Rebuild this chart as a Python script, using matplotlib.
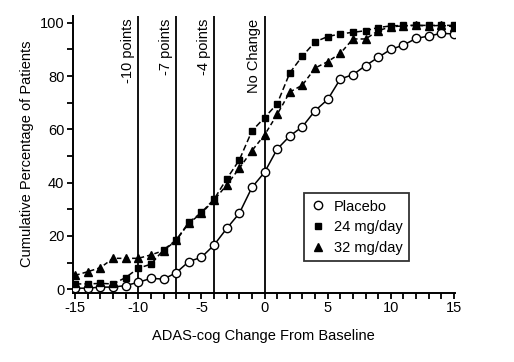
import matplotlib.pyplot as plt
import numpy as np
from matplotlib.lines import Line2D

plt.rcParams['font.family'] = ['Liberation Sans', 'DejaVu Sans']
plt.rcParams['axes.unicode_minus'] = False

# ADAS-cog change from baseline
change = list(range(-15, 16))

placebo = [0.4, 0.4, 0.8, 0.8, 1.4, 2.6, 4.1, 3.8, 6.2, 10.4, 12.0, 16.6, 22.8, 28.5, 38.2, 43.9,
           52.6, 57.5, 61.0, 67.0, 71.2, 78.9, 80.5, 83.9, 87.0, 90.0, 91.6, 94.1, 95.0, 96.0, 95.8]
mg24 = [2.0, 2.0, 2.2, 2.0, 4.4, 7.9, 9.4, 14.8, 18.5, 25.1, 28.8, 33.8, 41.4, 48.5, 59.4, 64.4,
        69.6, 81.2, 87.5, 92.8, 94.8, 95.8, 96.4, 97.0, 98.2, 98.8, 99.0, 99.0, 99.0, 99.0, 99.0]
mg32 = [5.2, 6.6, 8.1, 11.6, 11.6, 11.6, 12.9, 14.5, 18.3, 24.8, 28.5, 33.5, 39.1, 45.4, 52.0, 57.9,
        65.6, 74.0, 76.6, 83.0, 85.4, 88.5, 93.9, 93.9, 97.0, 98.5, 98.8, 99.0, 98.8, 99.0, 98.5]

ref_x = [-10, -7, -4, 0]
ref_labels = ['-10 points', '-7 points', '-4 points', 'No Change']

fig = plt.figure(figsize=(5.14, 3.62), dpi=100)
ax = fig.add_axes([0.1414, 0.1914, 0.743, 0.765])

# reference lines
for xv, lab in zip(ref_x, ref_labels):
    ax.axvline(xv, color='black', lw=1.3, zorder=1)
    ax.text(xv - 0.25, 101.5, lab, rotation=90, ha='right', va='top', fontsize=10.5)

ax.plot(change, placebo, '-', color='black', lw=1.1, marker='o', ms=6,
        mfc='white', mec='black', mew=1.0, label='Placebo', zorder=3)
ax.plot(change, mg24, '--', color='black', lw=1.1, marker='s', ms=5,
        mfc='black', mec='black', label='24 mg/day', dashes=(4, 2), zorder=3)
ax.plot(change, mg32, '--', color='black', lw=1.1, marker='^', ms=6,
        mfc='black', mec='black', label='32 mg/day', dashes=(3, 2), zorder=3)

ax.set_xlim(-15.2, 15.05)
ax.set_ylim(-1.3, 102.6)
ax.set_xticks([-15, -10, -5, 0, 5, 10, 15])
ax.set_xticks(np.arange(-15, 16, 1), minor=True)
ax.set_yticks([0, 20, 40, 60, 80, 100])
ax.set_yticks([10, 30, 50, 70, 90], minor=True)
ax.tick_params(which='both', direction='out', length=4, width=1.3, labelsize=10.5, pad=2)

for s in ['top', 'right']:
    ax.spines[s].set_visible(False)
for s in ['left', 'bottom']:
    ax.spines[s].set_linewidth(1.4)

ax.set_xlabel('ADAS-cog Change From Baseline', fontsize=10.5, labelpad=10)
ax.set_ylabel('Cumulative Percentage of Patients', fontsize=10.5, labelpad=4)

labels = ['Placebo', '24 mg/day', '32 mg/day']
leg_handles = [Line2D([], [], ls='none', marker='o', ms=6, mfc='white', mec='black'),
               Line2D([], [], ls='none', marker='s', ms=5, mfc='black', mec='black'),
               Line2D([], [], ls='none', marker='^', ms=6, mfc='black', mec='black')]
leg = ax.legend(leg_handles, labels, loc='upper left', bbox_to_anchor=(0.605, 0.36),
                borderaxespad=0, fontsize=10.5, frameon=True, fancybox=False,
                edgecolor='black', handlelength=1.0, handletextpad=0.6,
                borderpad=0.45, labelspacing=0.45)
leg.get_frame().set_linewidth(1.3)

fig.savefig('out.png', dpi=100)
